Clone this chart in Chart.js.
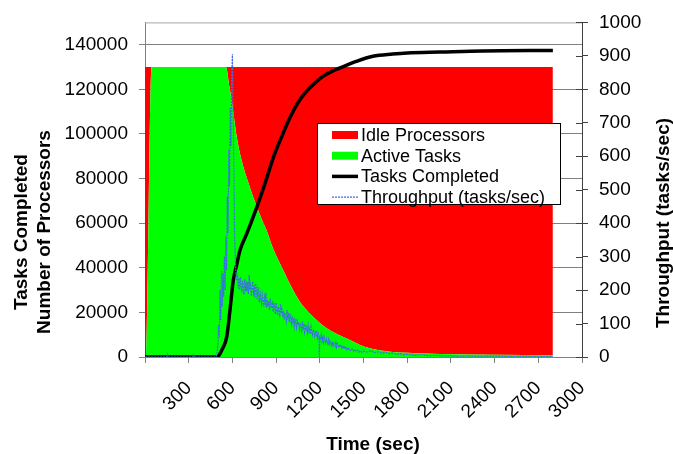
<!DOCTYPE html>
<html lang="en">
<head>
<meta charset="UTF-8">
<title>Processors, tasks and throughput over time</title>
<script src="https://cdn.jsdelivr.net/npm/chart.js"></script>
<style>
  html, body { margin: 0; padding: 0; background: #fff; }
  #wrap { width: 673px; height: 454px; position: relative; }
</style>
</head>
<body>
<div id="wrap"><canvas id="chart"></canvas></div>
<script>
  // total processors (top of the red/green block)
  const totalProcessors = 130000;

  // Active Tasks (left axis)
  const activeTime  = [0, 10, 45, 556, 580, 600, 620, 640, 664, 700, 744, 800, 835, 880, 950, 1000,
                       1064, 1120, 1179, 1250, 1339, 1407, 1476, 1550, 1682, 1800, 2025, 2400, 2800];
  const activeTasks = [0, 0, 130000, 130000, 121000, 113000, 103000, 95000, 88000, 80000, 71500, 62000, 56700, 48500, 38800, 32000,
                       24700, 20300, 16500, 12800, 9600, 7600, 5400, 3800, 2400, 1900, 1300, 1000, 800];

  // Tasks Completed (left axis)
  const tasksTime = [0, 490, 503, 530, 561, 585, 606, 630, 652, 700, 767, 820, 881, 940, 995, 1050,
                     1110, 1170, 1224, 1290, 1339, 1450, 1565, 1700, 1800, 2025, 2320, 2800];
  const tasksDone = [0, 0, 300, 3500, 9000, 22000, 34400, 41500, 47800, 55500, 67100, 77000, 89400, 99000, 107300, 114000,
                     119200, 123000, 125900, 128300, 129600, 132500, 134800, 135800, 136300, 136700, 137200, 137400];

  // Throughput (right axis)
  const tpTime = [
    0, 150, 155, 160, 330, 335, 340, 480, 490, 495,
    500, 505, 510, 515, 520, 525, 530, 535, 540, 545,
    550, 555, 560, 565, 570, 575, 580, 585, 590, 595,
    600, 605, 610, 615, 620, 625, 630, 635, 640, 645,
    650, 655, 660, 665, 670, 675, 680, 685, 690, 695,
    700, 705, 710, 715, 720, 725, 730, 735, 740, 745,
    750, 755, 760, 765, 770, 775, 780, 785, 790, 795,
    800, 805, 810, 815, 820, 825, 830, 835, 840, 845,
    850, 855, 860, 865, 870, 875, 880, 885, 890, 895,
    900, 905, 910, 915, 920, 925, 930, 935, 940, 945,
    950, 955, 960, 965, 970, 975, 980, 985, 990, 995,
    1000, 1005, 1010, 1015, 1020, 1025, 1030, 1035, 1040, 1045,
    1050, 1055, 1060, 1065, 1070, 1075, 1080, 1085, 1090, 1095,
    1100, 1105, 1110, 1115, 1120, 1125, 1130, 1135, 1140, 1145,
    1150, 1155, 1160, 1165, 1170, 1175, 1180, 1185, 1190, 1195,
    1197,
    1200, 1205, 1210, 1215, 1220, 1225, 1230, 1235, 1240, 1245,
    1250, 1255, 1260, 1265, 1270, 1275, 1280, 1285, 1290, 1295,
    1300, 1305, 1310, 1315, 1320, 1325, 1330, 1335, 1340, 1345,
    1350, 1355, 1360, 1365, 1370, 1375, 1380, 1385, 1390, 1395,
    1400, 1410, 1420, 1430, 1440, 1450, 1460, 1470, 1480, 1490, 1500,
    1525, 1550, 1575, 1600, 1625, 1650, 1675, 1700, 1725, 1750,
    1775, 1800, 1850, 1900, 1950, 2000, 2050, 2100, 2150, 2200,
    2300, 2400, 2500, 2600, 2700, 2800
  ];
  const tpRate = [
    0, 0, 8, 0, 0, 6, 0, 0, 3, 12,
    40, 95, 60, 200, 110, 260, 150, 250, 180, 300,
    200, 360, 260, 480, 370, 620, 510, 745, 630, 825,
    905, 730, 560, 360, 290, 245, 228, 250, 205, 236,
    200, 238, 215, 192, 228, 210, 186, 232, 205, 218,
    196, 224, 188, 246, 200, 214, 182, 208, 226, 192,
    205, 178, 220, 196, 172, 210, 184, 164, 190, 172,
    158, 186, 170, 150, 178, 162, 192, 148, 170, 156,
    166, 140, 175, 152, 146, 168, 135, 158, 150, 128,
    162, 140, 125, 150, 136, 118, 158, 130, 142, 120,
    138, 112, 132, 124, 108, 140, 118, 126, 104, 130,
    112, 98, 124, 105, 116, 92, 110, 100, 88, 114,
    96, 104, 84, 100, 92, 80, 106, 86, 94, 76,
    98, 82, 88, 72, 94, 78, 84, 68, 90, 74,
    66, 82, 72, 62, 78, 66, 74, 58, 70, 64,
    0,
    60, 52, 66, 48, 58, 44, 60, 50, 42, 54,
    46, 40, 52, 38, 48, 42, 36, 46, 34, 42,
    38, 32, 44, 30, 40, 34, 28, 38, 30, 34,
    28, 34, 26, 30, 24, 32, 26, 22, 28, 24,
    26, 20, 25, 18, 23, 17, 21, 15, 19, 14, 18,
    15, 19, 13, 16, 11, 14, 10, 12, 8, 10,
    7, 8, 5, 7, 4, 5, 3, 4, 2, 3,
    2, 3, 1, 2, 1, 1
  ];

  // axis tick values
  const xTicks = { min: 0, max: 3000, step: 300 };
  const leftTickValues = [0, 20000, 40000, 60000, 80000, 100000, 120000, 140000];
  const leftMax = 150000;
  const rightTickValues = [0, 100, 200, 300, 400, 500, 600, 700, 800, 900, 1000];

  const FONT = '"Liberation Sans", Arial, sans-serif';
  const pairs = (xs, ys) => xs.map((x, i) => ({ x: x, y: ys[i] }));

  // legend box + axis titles + small extras Excel draws
  const decor = {
    id: 'decor',
    afterDraw(chart) {
      const ctx = chart.ctx, a = chart.chartArea;
      ctx.save();

      // top edge of plot area
      ctx.strokeStyle = '#a6a6a6';
      ctx.lineWidth = 1;
      ctx.beginPath();
      ctx.moveTo(a.left, a.top + 0.5);
      ctx.lineTo(a.right, a.top + 0.5);
      ctx.stroke();

      // right axis ticks cross the axis
      const y1 = chart.scales.y1;
      ctx.strokeStyle = '#404040';
      ctx.beginPath();
      y1.ticks.forEach(t => {
        const py = Math.round(y1.getPixelForValue(t.value)) + 0.5;
        ctx.moveTo(a.right - 6, py);
        ctx.lineTo(a.right, py);
      });
      ctx.stroke();

      // legend
      const bx = 317, by = 123, bw = 244, bh = 82;
      ctx.fillStyle = '#fff';
      ctx.fillRect(bx, by, bw, bh);
      ctx.strokeStyle = '#000';
      ctx.strokeRect(bx + 0.5, by + 0.5, bw - 1, bh - 1);
      const order = [1, 0, 2, 3];
      ctx.font = '18px ' + FONT;
      ctx.textBaseline = 'middle';
      ctx.textAlign = 'left';
      order.forEach((di, i) => {
        const ds = chart.data.datasets[di];
        const cy = by + 12 + i * 20.7;
        if (ds.fill) {
          ctx.fillStyle = ds.backgroundColor;
          ctx.fillRect(332, cy - 4, 26, 8);
        } else {
          ctx.strokeStyle = ds.borderColor;
          ctx.lineWidth = Math.min(ds.borderWidth, 3.5);
          ctx.setLineDash(ds.borderDash || []);
          ctx.beginPath();
          ctx.moveTo(332, cy);
          ctx.lineTo(358, cy);
          ctx.stroke();
          ctx.setLineDash([]);
        }
        ctx.fillStyle = '#000';
        ctx.fillText(ds.label, 361, cy + 1);
      });

      // axis titles
      ctx.font = 'bold 19px ' + FONT;
      ctx.fillStyle = '#000';
      ctx.textAlign = 'center';
      ctx.textBaseline = 'alphabetic';
      const vtext = (txt, x, y) => {
        ctx.save();
        ctx.translate(x, y);
        ctx.rotate(-Math.PI / 2);
        ctx.fillText(txt, 0, 0);
        ctx.restore();
      };
      vtext('Tasks Completed', 27, 232);
      vtext('Number of Processors', 49.5, 232);
      vtext('Throughput (tasks/sec)', 669, 223);
      ctx.fillText('Time (sec)', 373, 450);
      ctx.restore();
    }
  };

  Chart.defaults.font.family = FONT;
  Chart.defaults.font.size = 19;
  Chart.defaults.color = '#000';

  new Chart(document.getElementById('chart'), {
    type: 'line',
    data: {
      datasets: [
        {
          label: 'Active Tasks',
          data: pairs(activeTime, activeTasks),
          backgroundColor: '#00ff00',
          borderColor: 'rgba(0,0,0,0)',
          borderWidth: 0,
          fill: 'origin',
          stack: 'procs',
          order: 3,
          pointRadius: 0,
          cubicInterpolationMode: 'monotone'
        },
        {
          label: 'Idle Processors',
          data: pairs(activeTime, activeTasks.map(v => totalProcessors - v)),
          backgroundColor: '#ff0000',
          borderColor: 'rgba(0,0,0,0)',
          borderWidth: 0,
          fill: '-1',
          stack: 'procs',
          order: 4,
          pointRadius: 0,
          cubicInterpolationMode: 'monotone'
        },
        {
          label: 'Tasks Completed',
          data: pairs(tasksTime, tasksDone),
          borderColor: '#000',
          borderWidth: 3.5,
          fill: false,
          stack: 'tasks',
          order: 2,
          pointRadius: 0,
          cubicInterpolationMode: 'monotone'
        },
        {
          label: 'Throughput (tasks/sec)',
          data: pairs(tpTime, tpRate),
          yAxisID: 'y1',
          borderColor: '#3a6ee8',
          borderWidth: 1.2,
          borderDash: [2, 1],
          fill: false,
          order: 1,
          pointRadius: 0,
          tension: 0
        }
      ]
    },
    options: {
      responsive: true,
      maintainAspectRatio: false,
      animation: false,
      layout: { padding: { top: 21, left: 0, right: 0, bottom: 0 } },
      plugins: { legend: { display: false }, tooltip: { enabled: false } },
      scales: {
        x: {
          type: 'linear',
          min: xTicks.min, max: xTicks.max,
          ticks: {
            stepSize: xTicks.step, autoSkip: false,
            minRotation: 45, maxRotation: 45, padding: 14,
            callback: v => (v === 0 ? '' : String(v))
          },
          grid: { drawOnChartArea: false, tickLength: 6, tickColor: '#808080' },
          border: { color: '#808080' },
          afterFit: s => { s.height = 97; }
        },
        y: {
          position: 'left',
          stacked: true,
          min: 0, max: leftMax,
          afterBuildTicks: s => { s.ticks = leftTickValues.map(v => ({ value: v })); },
          ticks: { padding: 11, callback: v => String(v) },
          grid: { color: '#808080', tickLength: 6, tickColor: '#808080' },
          border: { color: '#808080' },
          afterFit: s => { s.width = 145; }
        },
        y1: {
          position: 'right',
          min: 0, max: rightTickValues[rightTickValues.length - 1],
          afterBuildTicks: s => { s.ticks = rightTickValues.map(v => ({ value: v })); },
          ticks: { padding: 11, callback: v => String(v) },
          grid: { drawOnChartArea: false, tickLength: 6, tickColor: '#404040' },
          border: { color: '#404040' },
          afterFit: s => { s.width = 91; }
        }
      }
    },
    plugins: [decor]
  });
</script>
</body>
</html>
